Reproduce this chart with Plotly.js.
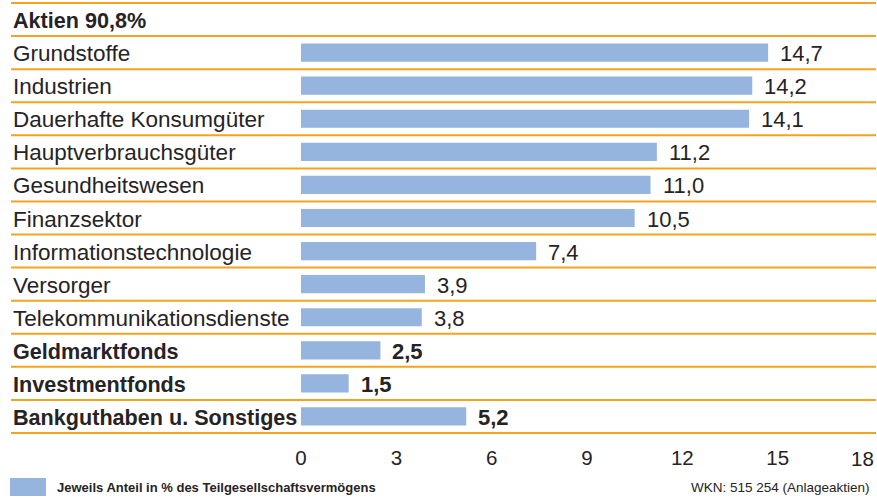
<!DOCTYPE html>
<html><head><meta charset="utf-8">
<script src="https://cdn.plot.ly/plotly-3.0.1.min.js"></script>
<style>html,body{margin:0;padding:0;background:#fff}#c{width:877px;height:498px}</style>
</head><body><div id="c"></div>
<script>
const categories = ["Aktien 90,8%","Grundstoffe","Industrien","Dauerhafte Konsumgüter","Hauptverbrauchsgüter","Gesundheitswesen","Finanzsektor","Informationstechnologie","Versorger","Telekommunikationsdienste","Geldmarktfonds","Investmentfonds","Bankguthaben u. Sonstiges"];
const values = [null,14.7,14.2,14.1,11.2,11.0,10.5,7.4,3.9,3.8,2.5,1.5,5.2];
const valueLabels = ["","14,7","14,2","14,1","11,2","11,0","10,5","7,4","3,9","3,8","2,5","1,5","5,2"];
const boldRows = [true,false,false,false,false,false,false,false,false,false,true,true,true];
const tickVals = [0,3,6,9,12,15];
const lastTick = 18;
const legendText = "Jeweils Anteil in % des Teilgesellschaftsvermögens";
const sourceText = "WKN: 515 254 (Anlageaktien)";

const FONT = "'Liberation Sans', Arial, sans-serif";
const TXT = "#262324";
const ORANGE = "#f5a31f";
const BLUE = "#95b5de";
const idx = categories.map((c,i)=>i);
const N = categories.length;
const W = 877, H = 498, ML = 11, MR = 1, MT = 3, MB = 65;
const PW = W-ML-MR;

const shapes = [];
for (let i=0;i<=N;i++){
  shapes.push({type:'line',xref:'paper',yref:'paper',x0:0,x1:1,y0:1-i/N,y1:1-i/N,line:{color:ORANGE,width:2}});
}
shapes.push({type:'rect',xref:'paper',yref:'paper',x0:-1/PW,x1:35/PW,y0:-(496-433)/430,y1:-(478-433)/430,fillcolor:BLUE,line:{width:0}});

const annotations = [];
categories.forEach((c,i)=>{
  annotations.push({xref:'paper',yref:'y',x:0,y:i,xanchor:'left',yanchor:'middle',showarrow:false,yshift:-1,
    text: boldRows[i] ? '<b>'+c+'</b>' : c,
    font:{family:FONT,size:boldRows[i]?21.6:22.5,color:TXT}});
  if (values[i]!==null){
    annotations.push({xref:'x',yref:'y',x:values[i],y:i,xanchor:'left',yanchor:'middle',showarrow:false,xshift:10,yshift:-1,
      text: boldRows[i] ? '<b>'+valueLabels[i]+'</b>' : valueLabels[i],
      font:{family:FONT,size:22,color:TXT}});
  }
});
annotations.push({xref:'x',yref:'paper',x:lastTick,y:0,xanchor:'right',yanchor:'middle',showarrow:false,xshift:3,yshift:-25,
  text:String(lastTick),font:{family:FONT,size:20.5,color:TXT}});
annotations.push({xref:'paper',yref:'paper',x:44/PW,y:-(487-433)/430,xanchor:'left',yanchor:'middle',showarrow:false,
  text:'<b>'+legendText+'</b>',font:{family:FONT,size:13,color:TXT}});
annotations.push({xref:'paper',yref:'paper',x:1,y:-(487-433)/430,xanchor:'right',yanchor:'middle',showarrow:false,xshift:-4,
  text:sourceText,font:{family:FONT,size:13.5,color:TXT}});

const trace = {type:'bar',orientation:'h',y:idx,x:values,marker:{color:BLUE},width:0.55,hoverinfo:'none'};

const layout = {
  width:W,height:H,margin:{l:ML,r:MR,t:MT,b:MB},
  paper_bgcolor:'#fff',plot_bgcolor:'#fff',showlegend:false,
  xaxis:{domain:[(301-ML)/PW,(873-ML)/PW],range:[0,18],tickvals:tickVals,ticktext:tickVals.map(String),showgrid:false,zeroline:false,showline:false,ticks:'',
    ticklabelstandoff:10,
    tickfont:{family:FONT,size:20.5,color:TXT},fixedrange:true},
  yaxis:{range:[N-0.5,-0.5],showticklabels:false,showgrid:false,zeroline:false,ticks:'',fixedrange:true},
  shapes:shapes,annotations:annotations
};
Plotly.newPlot('c',[trace],layout,{displayModeBar:false,staticPlot:true});
</script></body></html>
